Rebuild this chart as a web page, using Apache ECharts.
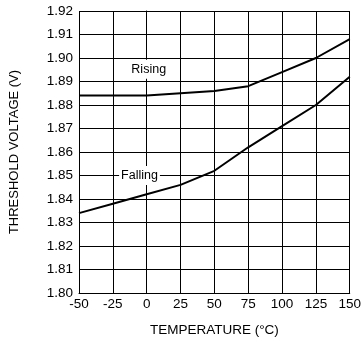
<!DOCTYPE html>
<html><head><meta charset="utf-8">
<script src="https://cdn.jsdelivr.net/npm/echarts@6/dist/echarts.min.js"></script>
<style>html,body{margin:0;padding:0;background:#fff}#c{width:364px;height:342px}</style>
</head><body><div id="c"></div>
<script>
var temps = [-50, -25, 0, 25, 50, 75, 100, 125, 150];
var rising = [1.884, 1.884, 1.884, 1.885, 1.886, 1.888, 1.894, 1.900, 1.908];
var falling = [1.834, 1.838, 1.842, 1.846, 1.852, 1.862, 1.871, 1.880, 1.892];
var risingLabel = {name: 'Rising', at: [1.5, 1.8952]};
var fallingLabel = {name: 'Falling', at: [-5.3, 1.85]};
function pairs(xs, ys){ return xs.map(function(x,i){ return [x, ys[i]]; }); }
var font = 'Liberation Sans, Arial, sans-serif';
function lbl(l, size){
  return {symbol: 'circle', symbolSize: 0, data: [{coord: l.at, value: l.name}],
    label: {show: true, position: 'inside', formatter: l.name, color: '#000', fontSize: size, fontFamily: font,
      backgroundColor: '#fff', padding: [3, 2]}};
}
var chart = echarts.init(document.getElementById('c'));
chart.setOption({
  animation: false,
  backgroundColor: '#fff',
  grid: {left: 77, top: 11, right: 9, bottom: 45, containLabel: false},
  xAxis: {
    type: 'value', min: -50, max: 150, interval: 25,
    name: 'TEMPERATURE (°C)', nameLocation: 'middle', nameGap: 30,
    nameTextStyle: {color: '#000', fontSize: 13.5, fontFamily: font},
    axisLine: {lineStyle: {color: '#000', width: 1}},
    axisTick: {show: false},
    axisLabel: {color: '#000', fontSize: 13.5, fontFamily: font, margin: 4},
    splitLine: {show: true, lineStyle: {color: '#000', width: 1}}
  },
  yAxis: {
    type: 'value', min: 1.80, max: 1.92, interval: 0.01,
    name: 'THRESHOLD VOLTAGE (V)', nameLocation: 'middle', nameGap: 58,
    nameTextStyle: {color: '#000', fontSize: 13, fontFamily: font},
    axisLine: {show: true, lineStyle: {color: '#000', width: 1}},
    axisTick: {show: false},
    axisLabel: {color: '#000', fontSize: 13.5, fontFamily: font, margin: 6,
      formatter: function(v){ return v.toFixed(2); }},
    splitLine: {show: true, lineStyle: {color: '#000', width: 1}}
  },
  series: [
    {type: 'line', data: pairs(temps, rising), showSymbol: false, symbol: 'none',
     lineStyle: {color: '#000', width: 2}, markPoint: lbl(risingLabel, 12.5)},
    {type: 'line', data: pairs(temps, falling), showSymbol: false, symbol: 'none',
     lineStyle: {color: '#000', width: 2}, markPoint: lbl(fallingLabel, 12.5)}
  ]
});
</script></body></html>
